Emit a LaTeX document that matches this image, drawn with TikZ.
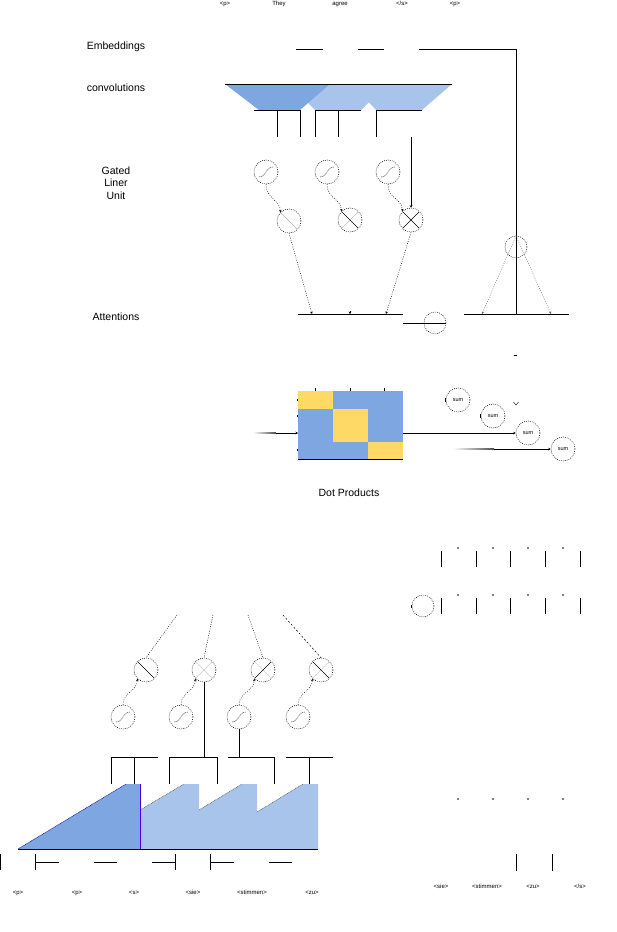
\documentclass[tikz,border=0pt]{standalone}
\usepackage{fontspec}
\setmainfont{Liberation Sans}
\usetikzlibrary{arrows.meta}
\definecolor{cdark}{HTML}{7EA6E0}
\definecolor{clight}{HTML}{A9C4EB}
\definecolor{cyel}{HTML}{FFD966}
\definecolor{cpurp}{HTML}{4C00E0}
\newcommand\sigglyph[1]{\draw[line width=0.5pt,dash pattern=on 1pt off 0.7pt,black!75] ([shift={(-7,5)}]#1.center) .. controls ([shift={(1,5)}]#1.center) and ([shift={(-1,-5)}]#1.center) .. ([shift={(7,-5)}]#1.center);}
\newcommand\bsglyph[2]{\draw[line width=0.6pt,#2] ([shift={(-8,-8)}]#1.center) -- ([shift={(8,8)}]#1.center);}
\newcommand\fsglyph[2]{\draw[line width=0.6pt,#2] ([shift={(-8,8)}]#1.center) -- ([shift={(8,-8)}]#1.center);}
\begin{document}
\begin{tikzpicture}[x=1pt,y=-1pt,
  dc/.style={circle,draw,line width=0.55pt,dash pattern=on 0.8pt off 1.2pt,minimum size=24pt,inner sep=0pt},
  ln/.style={line width=0.8pt},
  dl/.style={line width=0.5pt,dash pattern=on 0.8pt off 1.5pt},
  tip/.style={-{Stealth[length=2.5pt,width=2.5pt]}},
  big/.style={font=\fontsize{10.5}{12.5}\selectfont},
  sm/.style={font=\fontsize{6}{7}\selectfont,text height=4.3pt,text depth=1.3pt,inner sep=0pt},
  sumf/.style={font=\fontsize{5.5}{6}\selectfont},
]
\useasboundingbox (0,0) rectangle (616,932);

% ---------- top words ----------
\node[sm] (w1) at (225,4) {<p>};
\node[sm] (w2) at (279,4) {They};
\node[sm] (w3) at (340,4) {agree};
\node[sm] (w4) at (402,4) {</s>};
\node[sm] (w5) at (455,4) {<p>};

% ---------- left labels ----------
\node[big] (lemb) at (116,47) {Embeddings};
\node[big] (lconv) at (116,88) {convolutions};
\node[big,align=center] (lglu) at (116,183) {Gated\\Liner\\Unit};
\node[big] (latt) at (116,317) {Attentions};

% ---------- embeddings ----------
\draw[ln] (296,49) -- (323,49);
\draw[ln] (358,49) -- (384,49);
\coordinate (e3a) at (419,49);
\coordinate (e3b) at (516,49);
\coordinate (att2m) at (516,314);
\draw[ln] (e3a) -- (e3b) -- (att2m);

% ---------- convolutions ----------
\fill[clight] (352,84) -- (452,84) -- (422,110) -- (376,110) -- cycle;
\fill[clight] (290,84) -- (388,84) -- (361,110) -- (315,110) -- cycle;
\fill[cdark] (225,84) -- (330,84) -- (300,110) -- (259,110) -- cycle;
\draw[line width=0.6pt] (225,84) -- (452,84);
\draw[ln] (254,110) -- (300,110);
\draw[ln] (277,110) -- (277,137);
\draw[ln] (300,110) -- (300,137);
\draw[ln] (315,110) -- (361,110);
\draw[ln] (315,110) -- (315,137);
\draw[ln] (338,110) -- (338,137);
\draw[ln] (376,110) -- (422,110);
\draw[ln] (376,110) -- (376,137);

% ---------- gated linear units ----------
\node[dc] (s1) at (266,172) {};
\node[dc] (s2) at (327,172) {};
\node[dc] (s3) at (388,172) {};
\sigglyph{s1}\sigglyph{s2}\sigglyph{s3}
\node[dc] (g1) at (289,221) {};
\node[dc] (g2) at (350,220) {};
\node[dc] (g3) at (411,220) {};
\bsglyph{g1}{black!30}
\fsglyph{g2}{black!25}
\bsglyph{g2}{black}
\bsglyph{g3}{black}
\fsglyph{g3}{black}
\draw[dl,tip] (s1.south) .. controls +(0,14) and +(0,-12) .. (g1.north west);
\draw[dl,tip] (s2.south) .. controls +(0,14) and +(0,-12) .. (g2.north west);
\draw[dl,tip] (s3.south) .. controls +(0,14) and +(0,-12) .. (g3.north west);
\coordinate (a0) at (411,137);
\draw[ln,tip] (a0) -- (g3.north);

% ---------- attentions ----------
\coordinate (t1) at (312,314);
\coordinate (t2) at (350,314);
\coordinate (t3) at (386,314);
\draw[ln] (298,314) -- (403,314);
\draw[dl,tip] (g1.south) -- (t1);
\draw[dl,tip] (g3.south) -- (t3);
\draw[line width=0.5pt,tip] (350,311) -- (t2);
\node[dc,minimum size=22pt] (oc) at (435,323) {};
\coordinate (ocl) at (403,323);
\draw[ln] (ocl) -- (oc.east);
\coordinate (t4) at (482,314);
\coordinate (t5) at (551,314);
\draw[ln] (464,314) -- (569,314);
\node[dc,minimum size=22pt] (ac) at (516,247) {};
\draw[dl,black!60,tip] (ac.north) -- (t4);
\draw[dl,black!60,tip] (ac.north) -- (t5);
\draw[line width=0.5pt] (513.5,355) -- (517,355);

% ---------- dot products ----------
\fill[cdark] (298,391) rectangle (403,459);
\fill[cyel] (298,391) rectangle (333,409);
\fill[cyel] (333,409) rectangle (368,442);
\fill[cyel] (368,442) rectangle (403,459);
\draw[ln] (298,459) -- (403,459);
\node[inner sep=0pt,minimum width=105pt,minimum height=68pt] (mat) at (350.5,425) {};
\foreach \x in {315,350,384} \draw[line width=0.6pt] (\x,388) -- (\x,390.5);
\foreach \y in {400,416,450} \fill (296.6,\y-0.8) rectangle (298,\y+0.8);
\shade[left color=white,right color=black!70] (253,432.6) rectangle (276,433.4);
\coordinate (min) at (276,433);
\coordinate (mwest) at (298,433);
\draw[ln,tip] (min) -- (mwest);
\node[big] (ldot) at (349,493) {Dot Products};

\node[dc,sumf] (sum1) at (458,400) {sum};
\node[dc,sumf] (sum2) at (493,416) {sum};
\node[dc,sumf] (sum3) at (528,433) {sum};
\node[dc,sumf] (sum4) at (563,449) {sum};
\foreach \n in {sum1,sum2} \draw[line width=0.6pt] ([shift={(0,-2)}]\n.west) -- ([shift={(0,2)}]\n.west);
\coordinate (meast) at (403,433);
\draw[ln,tip] (meast) -- (sum3.west);
\shade[left color=white,right color=black!70] (453,448.6) rectangle (494,449.4);
\coordinate (s4in) at (494,449);
\draw[ln,tip] (s4in) -- (sum4.west);
\draw[line width=0.4pt] (513.5,402) -- (516,405) -- (518.5,402);

% ---------- right block ----------
\foreach \x in {441,476,510,545,580} {
  \draw[ln] (\x,551) -- (\x,567);
  \draw[ln] (\x,598) -- (\x,614);
}
\foreach \x in {458,493,528,563} {
  \fill (\x,548) circle (0.9);
  \fill (\x,595) circle (0.9);
  \fill (\x,799) circle (0.9);
}
\node[dc,minimum size=22pt] (rc) at (423,606) {};
\draw[line width=0.6pt] ([shift={(0,-1.5)}]rc.west) -- ([shift={(0,1.5)}]rc.west);
\draw[ln] (516,854) -- (516,871);
\draw[ln] (552,854) -- (552,871);
\node[sm] (o1) at (441,887) {<sie>};
\node[sm] (o2) at (487,887) {<stimmen>};
\node[sm] (o3) at (533,887) {<zu>};
\node[sm] (o4) at (580,887) {</s>};

% ---------- decoder ----------
\coordinate (p1) at (177,615);
\coordinate (p2) at (213,615);
\coordinate (p3) at (248,615);
\coordinate (p4) at (283,615);
\node[dc] (u1) at (146,670) {};
\node[dc] (u2) at (204,670) {};
\node[dc] (u3) at (263,670) {};
\node[dc] (u4) at (321,670) {};
\bsglyph{u1}{black}
\bsglyph{u2}{black!20}
\fsglyph{u2}{black!20}
\bsglyph{u3}{black!20}
\fsglyph{u3}{black}
\fsglyph{u4}{black!20}
\bsglyph{u4}{black}
\draw[dl] (p1) -- (u1.north);
\draw[dl] (p2) -- (u2.north);
\draw[dl] (p3) -- (u3.north);
\draw[line width=0.5pt,dash pattern=on 2pt off 2pt] (p4) -- (u4.north);
\node[dc] (l1) at (123,717) {};
\node[dc] (l2) at (181,717) {};
\node[dc] (l3) at (239,717) {};
\node[dc] (l4) at (298,717) {};
\sigglyph{l1}\sigglyph{l2}\sigglyph{l3}\sigglyph{l4}
\draw[dl,tip] (l1.north) .. controls +(0,-12) and +(0,12) .. (u1.south west);
\draw[dl,tip] (l2.north) .. controls +(0,-12) and +(0,12) .. (u2.south west);
\draw[dl,tip] (l3.north) .. controls +(0,-12) and +(0,12) .. (u3.south west);
\draw[dl,tip] (l4.north) .. controls +(0,-12) and +(0,12) .. (u4.south west);
\coordinate (b2) at (204,757);
\coordinate (b3) at (239,757);
\draw[ln] (u2.south) -- (b2);
\draw[ln] (l3.south) -- (b3);
\draw[ln] (111,757) -- (158,757);
\draw[ln] (169,757) -- (217,757);
\draw[ln] (228,757) -- (274,757);
\draw[ln] (286,757) -- (333,757);
\foreach \x in {111,134,169,217,274,309} \draw[ln] (\x,757) -- (\x,784);

% masked convolution shapes
\fill[clight] (140,810) -- (184,784) -- (199,784) -- (199,810) -- (242,784) -- (257,784) -- (257,812) -- (303,784) -- (318,784) -- (318,849) -- (140,849) -- cycle;
\fill[cdark] (18,849) -- (126,784) -- (140,784) -- (140,849) -- cycle;
\draw[line width=0.5pt,dash pattern=on 0.8pt off 0.6pt,blue!60!black] (18,849) -- (126,784);
\foreach \a/\b/\c/\d in {140/810/184/784,199/810/242/784,257/812/303/784}
  \draw[line width=0.5pt,dash pattern=on 0.8pt off 0.8pt,black!70] (\a,\b) -- (\c,\d);
\draw[line width=0.8pt,cpurp] (140,784) -- (140,849);
\draw[ln] (18,849) -- (318,849);

% brackets
\draw[ln] (0.5,854) -- (0.5,870);
\draw[ln] (35,854) -- (35,870);
\draw[ln] (35,862) -- (59,862);
\draw[ln] (94,862) -- (117,862);
\draw[ln] (152,862) -- (175,862);
\draw[ln] (175,854) -- (175,870);
\draw[ln] (210,854) -- (210,870);
\draw[ln] (210,862) -- (234,862);
\draw[ln] (269,862) -- (292,862);

\node[sm] (i1) at (18,893) {<p>};
\node[sm] (i2) at (77,893) {<p>};
\node[sm] (i3) at (134,893) {<s>};
\node[sm] (i4) at (193,893) {<sie>};
\node[sm] (i5) at (252,893) {<stimmen>};
\node[sm] (i6) at (312,893) {<zu>};
\end{tikzpicture}
\end{document}
